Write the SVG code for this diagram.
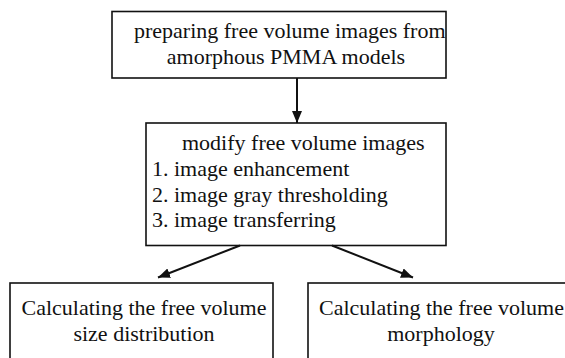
<svg xmlns="http://www.w3.org/2000/svg" width="565" height="358" viewBox="0 0 565 358">
<style>
.box{fill:#fff;stroke:#111;stroke-width:1.6}
.t{font-family:"Liberation Serif","Times New Roman",serif;font-size:22px;fill:#111}
.m{text-anchor:middle}
.c{stroke:#111;stroke-width:2;fill:none}
</style>
<defs>
<marker id="ah" viewBox="0 0 12 10" refX="12" refY="5" markerWidth="12" markerHeight="10" markerUnits="userSpaceOnUse" orient="auto">
<path d="M0,0 L12,5 L0,10 Z" fill="#111"/>
</marker>
</defs>
<rect width="565" height="358" fill="#fff"/>
<g id="n1">
<rect class="box" x="112" y="11.5" width="334" height="66.5"/>
<text class="t" x="134" y="38">preparing free volume images from</text>
<text class="t m" x="286" y="64">amorphous PMMA models</text>
</g>
<g id="n2">
<rect class="box" x="146" y="123" width="300" height="122.5"/>
<text class="t" x="182" y="150">modify free volume images</text>
<text class="t" x="152" y="176">1. image enhancement</text>
<text class="t" x="152" y="202">2. image gray thresholding</text>
<text class="t" x="152" y="227">3. image transferring</text>
</g>
<g id="n3">
<rect class="box" x="10" y="283" width="263" height="90"/>
<text class="t m" x="144" y="315">Calculating the free volume</text>
<text class="t m" x="144" y="341">size distribution</text>
</g>
<g id="n4">
<rect class="box" x="308" y="283" width="280" height="90"/>
<text class="t" x="319" y="315">Calculating the free volume</text>
<text class="t m" x="441" y="341">morphology</text>
</g>
<g id="connectors">
<line class="c" x1="297" y1="78" x2="297" y2="123" marker-end="url(#ah)"/>
<line class="c" x1="240" y1="245.5" x2="158" y2="277.5" marker-end="url(#ah)"/>
<line class="c" x1="332" y1="245.5" x2="413" y2="277.5" marker-end="url(#ah)"/>
</g>
</svg>
